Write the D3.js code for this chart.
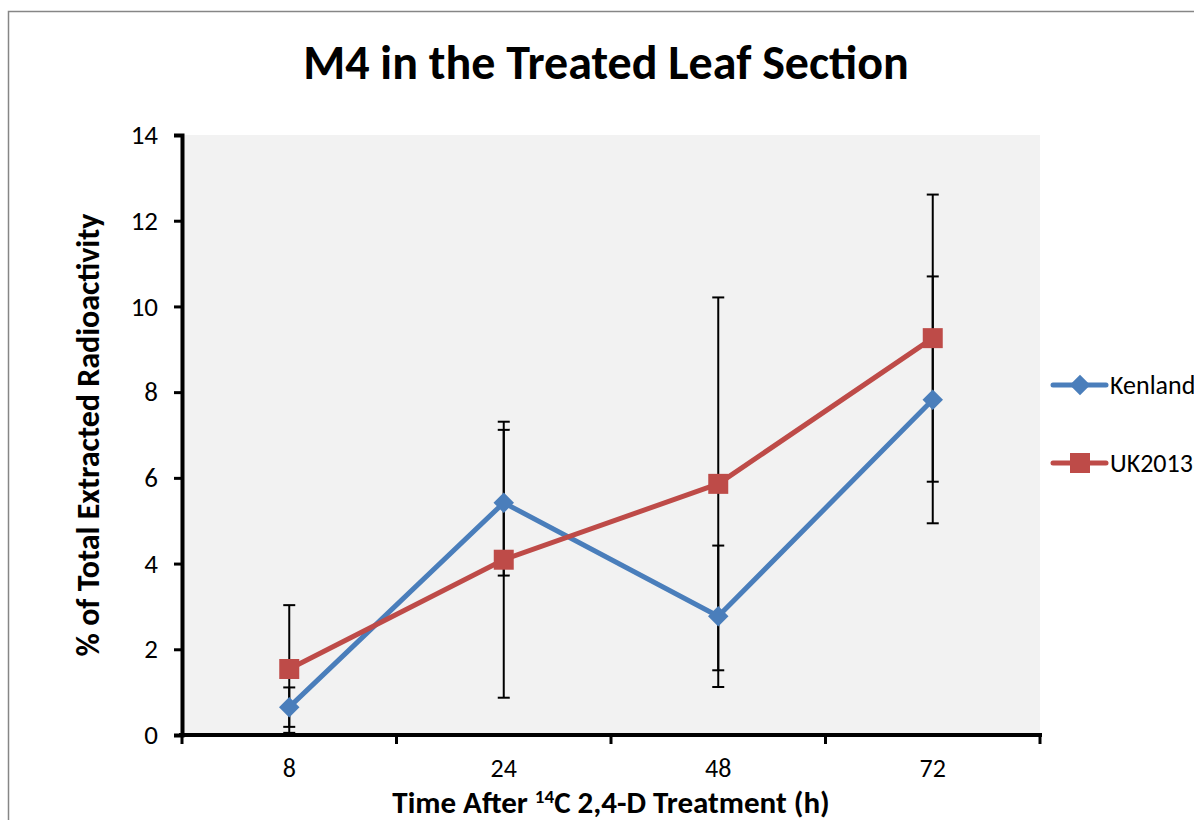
<!DOCTYPE html>
<html>
<head>
<meta charset="utf-8">
<script src="https://cdn.jsdelivr.net/npm/d3@7"></script>
<style>
  body { margin: 0; background: #fff; }
  text { font-family: Calibri, Carlito, "Open Sans", "Liberation Sans", sans-serif; }
</style>
</head>
<body>
<div id="chart"></div>
<script>
const categories = ["8", "24", "48", "72"];
const kenland = [0.65, 5.42, 2.77, 7.82];
const kenlandErr = [0.46, 1.7, 1.65, 2.88];
const uk2013 = [1.54, 4.09, 5.86, 9.26];
const uk2013Err = [1.49, 3.22, 4.35, 3.35];
const yTicks = [0, 2, 4, 6, 8, 10, 12, 14];

const series = [
  { name: "Kenland", values: kenland, err: kenlandErr, color: "#4a7ebb", shape: "diamond" },
  { name: "UK2013", values: uk2013, err: uk2013Err, color: "#be4b48", shape: "square" }
];

const W = 1194, H = 820;
const plot = { left: 182, right: 1040, top: 135, bottom: 735 };

const svg = d3.select("#chart").append("svg")
  .attr("width", W).attr("height", H);

// outer chart frame
svg.append("rect")
  .attr("x", 8.5).attr("y", 11.5)
  .attr("width", 1300).attr("height", 900)
  .attr("fill", "#fff").attr("stroke", "#868686").attr("stroke-width", 1.5);

svg.append("rect")
  .attr("x", plot.left).attr("y", plot.top)
  .attr("width", plot.right - plot.left).attr("height", plot.bottom - plot.top)
  .attr("fill", "#f2f2f2");

const x = d3.scaleBand().domain(categories).range([plot.left, plot.right]);
const y = d3.scaleLinear().domain([0, 14]).range([plot.bottom, plot.top]);

// title
svg.append("text")
  .attr("x", 606).attr("y", 79)
  .attr("text-anchor", "middle")
  .style("font-size", "48px").style("font-weight", "bold")
  .text("M4 in the Treated Leaf Section");

// y axis
const yAxis = svg.append("g")
  .attr("transform", "translate(" + plot.left + ",0)")
  .call(d3.axisLeft(y).tickValues(yTicks).tickSize(8).tickPadding(16));
yAxis.select(".domain").attr("stroke", "#000").attr("stroke-width", 4);
yAxis.selectAll(".tick line").attr("stroke", "#000").attr("stroke-width", 3);
yAxis.selectAll(".tick text").style("font-size", "27px").attr("fill", "#000")
  .style("font-family", "Calibri, Carlito, 'Open Sans', sans-serif");

// x axis
const xAxis = svg.append("g")
  .attr("transform", "translate(0," + plot.bottom + ")");
xAxis.append("line")
  .attr("x1", plot.left - 3).attr("x2", plot.right + 2)
  .attr("stroke", "#000").attr("stroke-width", 4);
const bounds = categories.map((c) => x(c)).concat([plot.right]);
xAxis.selectAll(".xt").data(bounds).join("line")
  .attr("class", "xt")
  .attr("x1", (d) => d).attr("x2", (d) => d)
  .attr("y1", 0).attr("y2", 9)
  .attr("stroke", "#000").attr("stroke-width", 3);
xAxis.selectAll(".xl").data(categories).join("text")
  .attr("class", "xl")
  .attr("x", (d) => x(d) + x.bandwidth() / 2)
  .attr("y", 42)
  .attr("text-anchor", "middle")
  .style("font-size", "26px")
  .text((d) => d);

// axis titles
const xTitle = svg.append("text")
  .attr("x", 611).attr("y", 813)
  .attr("text-anchor", "middle")
  .style("font-size", "31px").style("font-weight", "bold");
xTitle.append("tspan").text("Time After ");
xTitle.append("tspan").attr("dy", -10).style("font-size", "19px").text("14");
xTitle.append("tspan").attr("dy", 10).text("C 2,4-D Treatment (h)");

svg.append("text")
  .attr("transform", "translate(99,435) rotate(-90)")
  .attr("text-anchor", "middle")
  .style("font-size", "32px").style("font-weight", "bold")
  .text("% of Total Extracted Radioactivity");

// error bars
const cx = (i) => x(categories[i]) + x.bandwidth() / 2;
series.forEach((s) => {
  const g = svg.append("g");
  s.values.forEach((v, i) => {
    const lo = Math.max(0, v - s.err[i]), hi = v + s.err[i];
    g.append("line")
      .attr("x1", cx(i)).attr("x2", cx(i))
      .attr("y1", y(lo)).attr("y2", y(hi))
      .attr("stroke", "#000").attr("stroke-width", 2);
    [lo, hi].forEach((e) => {
      g.append("line")
        .attr("x1", cx(i) - 6).attr("x2", cx(i) + 6)
        .attr("y1", y(e)).attr("y2", y(e))
        .attr("stroke", "#000").attr("stroke-width", 2);
    });
  });
});

// lines and markers
const line = d3.line().x((d, i) => cx(i)).y((d) => y(d));
const symbolFor = (shape) =>
  shape === "diamond"
    ? d3.symbol().type(d3.symbolSquare).size(210)
    : d3.symbol().type(d3.symbolSquare).size(400);

series.forEach((s) => {
  svg.append("path")
    .datum(s.values)
    .attr("d", line)
    .attr("fill", "none")
    .attr("stroke", s.color)
    .attr("stroke-width", 5)
    .attr("stroke-linejoin", "round");
  svg.selectAll(".m-" + s.name).data(s.values).join("path")
    .attr("class", "m-" + s.name)
    .attr("d", symbolFor(s.shape))
    .attr("transform", (d, i) =>
      "translate(" + cx(i) + "," + y(d) + ")" + (s.shape === "diamond" ? " rotate(45)" : ""))
    .attr("fill", s.color);
});

// legend
const legend = svg.append("g");
series.forEach((s, i) => {
  const ly = 385 + i * 78;
  legend.append("line")
    .attr("x1", 1053).attr("x2", 1106)
    .attr("y1", ly).attr("y2", ly)
    .attr("stroke", s.color).attr("stroke-width", 5)
    .attr("stroke-linecap", "round");
  legend.append("path")
    .attr("d", symbolFor(s.shape))
    .attr("transform", "translate(1080," + ly + ")" + (s.shape === "diamond" ? " rotate(45)" : ""))
    .attr("fill", s.color);
  legend.append("text")
    .attr("x", 1110).attr("y", ly + 9)
    .style("font-size", "26px")
    .text(s.name);
});
</script>
</body>
</html>
